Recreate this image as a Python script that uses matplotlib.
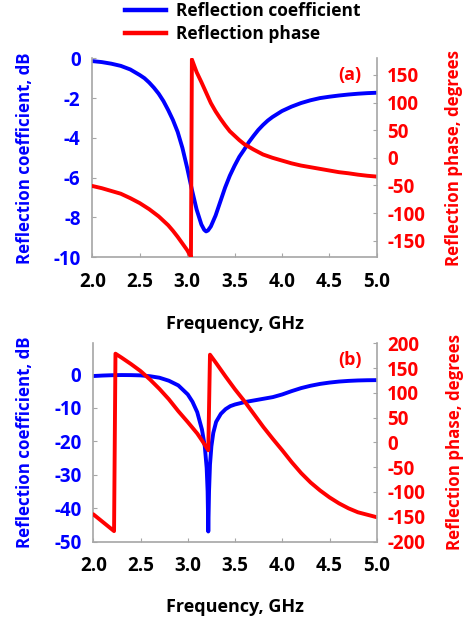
import matplotlib
matplotlib.use("Agg")
import matplotlib.pyplot as plt
from matplotlib.lines import Line2D

plt.rcParams['font.family'] = ['Open Sans', 'DejaVu Sans']
plt.rcParams['font.weight'] = 'bold'

# ---------------- data: panel (a) ----------------
freq_a_mag = [2.0, 2.1, 2.2, 2.3, 2.4, 2.5, 2.55, 2.6, 2.65, 2.7, 2.75, 2.8, 2.85, 2.9, 2.95,
              3.0, 3.05, 3.1, 3.15, 3.18, 3.2, 3.22, 3.25, 3.3, 3.35, 3.4, 3.45, 3.5, 3.55,
              3.6, 3.65, 3.7, 3.75, 3.8, 3.85, 3.9, 3.95, 4.0, 4.1, 4.2, 4.3, 4.4, 4.5,
              4.6, 4.7, 4.8, 4.9, 5.0]
mag_a_db = [-0.14, -0.19, -0.27, -0.38, -0.56, -0.84, -1.0, -1.22, -1.48, -1.78, -2.15, -2.6,
            -3.1, -3.7, -4.5, -5.5, -6.6, -7.6, -8.35, -8.62, -8.7, -8.65, -8.45, -7.9, -7.2,
            -6.5, -5.9, -5.4, -4.95, -4.6, -4.22, -3.9, -3.6, -3.35, -3.13, -2.95, -2.8,
            -2.65, -2.43, -2.25, -2.11, -2.0, -1.93, -1.87, -1.82, -1.78, -1.75, -1.73]
freq_a_ph = [2.0, 2.1, 2.2, 2.3, 2.4, 2.5, 2.6, 2.7, 2.8, 2.85, 2.9, 2.95, 3.0, 3.03, 3.04,
             3.05, 3.1, 3.15, 3.2, 3.25, 3.3, 3.35, 3.4, 3.45, 3.5, 3.55, 3.6, 3.7, 3.8,
             3.9, 4.0, 4.1, 4.2, 4.3, 4.4, 4.5, 4.6, 4.7, 4.8, 4.9, 5.0]
phase_a_deg = [-51, -55, -60, -65, -73, -82, -93, -106, -122, -132, -143, -155, -167, -176,
               -180, 178, 155, 137, 118, 99, 84, 71, 59, 48, 40, 32, 25, 15, 6,
               0, -5, -10, -14, -17, -20, -23, -26, -28, -30.5, -32.5, -34]

# ---------------- data: panel (b) ----------------
freq_b_mag = [2.0, 2.1, 2.2, 2.3, 2.4, 2.5, 2.6, 2.7, 2.8, 2.9, 3.0, 3.05, 3.1, 3.15, 3.18,
              3.2, 3.21, 3.217, 3.225, 3.235, 3.25, 3.27, 3.3, 3.35, 3.4, 3.45, 3.5, 3.6,
              3.7, 3.8, 3.9, 4.0, 4.1, 4.2, 4.3, 4.4, 4.5, 4.6, 4.7, 4.8, 4.9, 5.0]
mag_b_db = [-0.5, -0.35, -0.25, -0.2, -0.22, -0.3, -0.55, -1.0, -1.9, -3.3, -6.0, -8.2,
            -11.3, -16.5, -21.5, -28, -35, -47, -35, -27, -21.5, -17.5, -14.2, -11.8,
            -10.4, -9.5, -9.0, -8.3, -7.8, -7.3, -6.8, -6.0, -5.0, -4.1, -3.4, -2.85,
            -2.45, -2.15, -1.95, -1.82, -1.75, -1.72]
freq_b_ph = [2.0, 2.22, 2.235, 2.3, 2.4, 2.5, 2.6, 2.7, 2.8, 2.9, 3.0, 3.1, 3.15, 3.217,
             3.235, 3.3, 3.4, 3.5, 3.6, 3.7, 3.8, 3.9, 4.0, 4.1, 4.2, 4.3, 4.4, 4.5,
             4.6, 4.7, 4.8, 4.9, 5.0]
phase_b_deg = [-145, -179, 179, 171, 158, 144, 127, 108, 87, 63, 41, 18, 4, -16,
               177, 160, 133, 107, 83, 57, 31, 7, -16, -40, -62, -81, -97, -111,
               -123, -133, -141, -146, -151]

x_ticks = [2.0, 2.5, 3.0, 3.5, 4.0, 4.5, 5.0]
x_ticklabels = ['2.0', '2.5', '3.0', '3.5', '4.0', '4.5', '5.0']
ya_left_ticks = [0, -2, -4, -6, -8, -10]
ya_right_ticks = [150, 100, 50, 0, -50, -100, -150]
yb_left_ticks = [0, -10, -20, -30, -40, -50]
yb_right_ticks = [200, 150, 100, 50, 0, -50, -100, -150, -200]

BLUE = '#0000ff'
RED = '#ff0000'
GREY = '#a6a6a6'
FS = 13
TFS = 13.5
LFS = 12.2
LW = 2.8

fig = plt.figure(figsize=(4.71, 6.21), dpi=100)


def style(ax, ax2, left_ticks, right_ticks, ylim_l, ylim_r, panel):
    ax.set_xlim(2.0, 5.0)
    ax.set_ylim(*ylim_l)
    ax2.set_ylim(*ylim_r)
    ax.set_xticks(x_ticks)
    ax.set_xticklabels(x_ticklabels)
    ax.set_yticks(left_ticks)
    ax.set_yticklabels([str(t) for t in left_ticks])
    ax2.set_yticks(right_ticks)
    ax2.set_yticklabels([str(t) for t in right_ticks])
    for a in (ax, ax2):
        a.spines['top'].set_visible(False)
        for s in ('left', 'right', 'bottom'):
            a.spines[s].set_color(GREY)
            a.spines[s].set_linewidth(1.2)
    ax.spines['right'].set_visible(False)
    ax2.spines['left'].set_visible(False)
    ax2.spines['bottom'].set_visible(False)
    ax.tick_params(axis='x', direction='in', length=3, color=GREY, pad=10.5,
                   labelsize=TFS, labelcolor='black')
    ax.tick_params(axis='y', direction='in', length=3, color=GREY, pad=8.5,
                   labelsize=TFS, labelcolor=BLUE)
    ax2.tick_params(axis='y', direction='in', length=3, color=GREY, pad=7.5,
                    labelsize=TFS, labelcolor=RED)
    for lab in ax.get_xticklabels() + ax.get_yticklabels() + ax2.get_yticklabels():
        lab.set_fontweight('bold')
    ax.set_xlabel('Frequency, GHz', fontsize=FS, fontweight='bold', color='black', va='top')
    ax.xaxis.set_label_coords(0.5, -0.29)
    ax.set_ylabel('Reflection coefficient, dB', fontsize=LFS, fontweight='bold', color=BLUE,
                  va='center')
    ax.yaxis.set_label_coords(-0.235, 0.5)
    ax2.set_ylabel('Reflection phase, degrees', fontsize=LFS, fontweight='bold', color=RED,
                   va='center', rotation=90)
    ax2.yaxis.set_label_coords(1.27, 0.5)
    ax2.text(0.905, 0.915, panel, transform=ax.transAxes, color=RED, fontsize=FS,
             fontweight='bold', ha='center', va='center')


# panel (a)
ax1 = fig.add_axes([0.196, 0.5857, 0.604, 0.3204])
ax1b = ax1.twinx()
ax1.plot(freq_a_mag, mag_a_db, color=BLUE, lw=LW, solid_capstyle='round', solid_joinstyle='round')
ax1b.plot(freq_a_ph, phase_a_deg, color=RED, lw=LW, solid_capstyle='round', solid_joinstyle='round')
style(ax1, ax1b, ya_left_ticks, ya_right_ticks, (-10, 0), (-180, 180), '(a)')

# panel (b)
ax2 = fig.add_axes([0.198, 0.128, 0.602, 0.3192])
ax2b = ax2.twinx()
ax2.plot(freq_b_mag, mag_b_db, color=BLUE, lw=LW, solid_capstyle='round', solid_joinstyle='round')
ax2b.plot(freq_b_ph, phase_b_deg, color=RED, lw=LW, solid_capstyle='round', solid_joinstyle='round')
style(ax2, ax2b, yb_left_ticks, yb_right_ticks, (-50, 9.3), (-200, 200), '(b)')
ax2.yaxis.set_label_coords(-0.24, 0.5)
ax2b.yaxis.set_label_coords(1.275, 0.5)
ax2.xaxis.set_label_coords(0.5, -0.285)

handles = [Line2D([], [], color=BLUE, lw=3.2), Line2D([], [], color=RED, lw=3.2)]
fig.legend(handles, ['Reflection coefficient', 'Reflection phase'],
           loc='upper left', bbox_to_anchor=(0.265, 0.997), frameon=False,
           prop={'weight': 'bold', 'size': 12.5},
           handlelength=2.4, handletextpad=0.55, labelspacing=0.3,
           borderpad=0, borderaxespad=0)

fig.savefig('out.png', dpi=100)
